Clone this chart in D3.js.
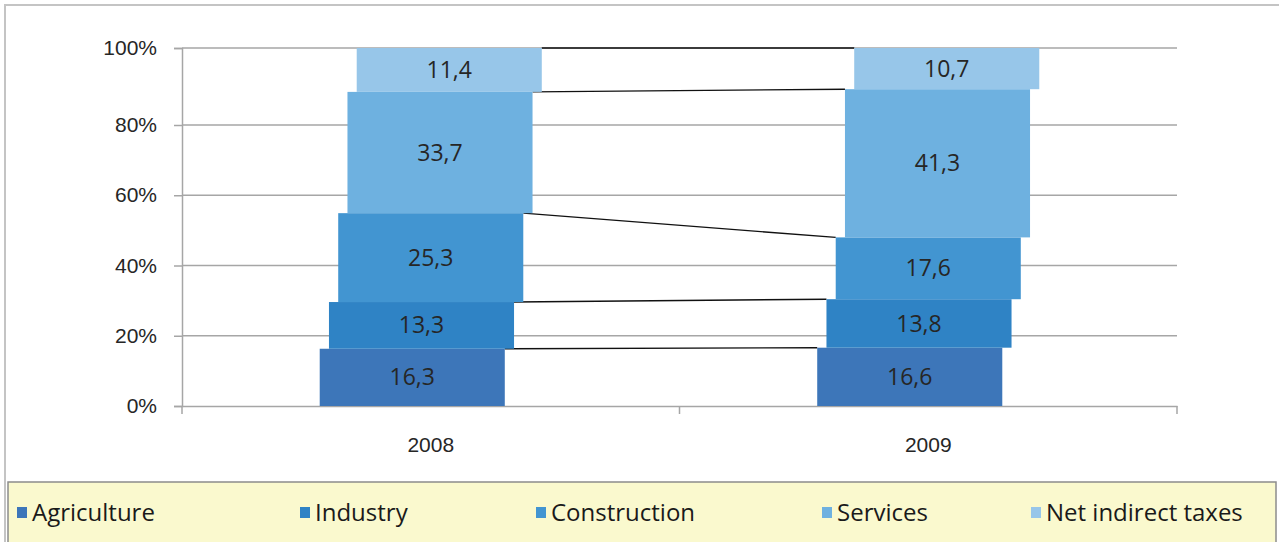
<!DOCTYPE html>
<html>
<head>
<meta charset="utf-8">
<script src="https://cdn.jsdelivr.net/npm/d3@7"></script>
<style>
  body { margin: 0; background: #fff; }
  svg { display: block; font-family: "Open Sans", "Noto Sans", sans-serif; }
</style>
</head>
<body>
<svg id="chart" width="1279" height="542"></svg>
<script>
// data
var years = ["2008", "2009"];
var sectors = ["Agriculture", "Industry", "Construction", "Services", "Net indirect taxes"];
var values2008 = [16.3, 13.3, 25.3, 33.7, 11.4];
var values2009 = [16.6, 13.8, 17.6, 41.3, 10.7];
var yTicks = [0, 0.2, 0.4, 0.6, 0.8, 1];
var colors = ["#3D76B9", "#2F83C5", "#4295D1", "#6EB1E0", "#97C6E9"];

var svg = d3.select("#chart"),
    margin = {top: 48, right: 102, bottom: 136, left: 182},
    width = +svg.attr("width") - margin.left - margin.right,
    height = +svg.attr("height") - margin.top - margin.bottom;

// outer frame of the chart area
svg.append("rect")
    .attr("x", 5).attr("y", 5)
    .attr("width", 1300).attr("height", 600)
    .attr("fill", "none")
    .attr("stroke", "#C4C4C4")
    .attr("stroke-width", 2);

var g = svg.append("g").attr("transform", "translate(" + margin.left + "," + margin.top + ")");

var rows = years.map(function(y, i) {
  var v = i === 0 ? values2008 : values2009;
  var r = {year: y};
  sectors.forEach(function(s, j) { r[s] = v[j]; });
  return r;
});

var series = d3.stack()
    .keys(sectors)
    .offset(d3.stackOffsetExpand)(rows);

var x = d3.scaleBand()
    .domain(years)
    .range([0, width]);

// the source image has a taller top band (80-100%) than the others
var y = d3.scaleLinear()
    .domain([0, 0.8, 1])
    .range([height, 77, 0]);

var barW = x.bandwidth() * 0.372;
// each sector is shifted a little to the right of the one below
var shift = d3.scalePoint()
    .domain(sectors)
    .range([-18.5, 18.5]);

// gridlines + y axis
var yAxis = d3.axisLeft(y)
    .tickValues(yTicks)
    .tickFormat(d3.format(".0%"))
    .tickSize(8)
    .tickPadding(17);

var yg = g.append("g").call(yAxis);
yg.select(".domain").attr("stroke", "#A6A6A6").attr("stroke-width", 1.5);
yg.selectAll(".tick line").attr("stroke", "#A6A6A6").attr("stroke-width", 1.5);
yg.selectAll(".tick text").attr("fill", "#262626").attr("font-size", 21);

g.append("g")
  .selectAll("line")
  .data(yTicks.slice(1))
  .enter().append("line")
    .attr("x1", 0).attr("x2", width)
    .attr("y1", function(d) { return y(d); })
    .attr("y2", function(d) { return y(d); })
    .attr("stroke", "#A6A6A6")
    .attr("stroke-width", 1.5);

var xAxis = d3.axisBottom(x)
    .tickSize(0)
    .tickPadding(31);

var xg = g.append("g")
    .attr("transform", "translate(0," + height + ")")
    .call(xAxis);
xg.select(".domain").attr("stroke", "#A6A6A6").attr("stroke-width", 1.5);
xg.selectAll(".tick text").attr("fill", "#262626").attr("font-size", 21);

// category boundary ticks below the axis
g.append("g")
  .selectAll("line")
  .data([0, 1, 2])
  .enter().append("line")
    .attr("x1", function(d) { return d * x.step(); })
    .attr("x2", function(d) { return d * x.step(); })
    .attr("y1", height).attr("y2", height + 8)
    .attr("stroke", "#A6A6A6")
    .attr("stroke-width", 1.5);

function left(key, year) { return x(year) + x.bandwidth() / 2 + shift(key) - barW / 2; }

// connector lines between top corners
g.append("g")
  .selectAll("line")
  .data(series)
  .enter().append("line")
    .attr("x1", function(s) { return left(s.key, years[0]) + barW; })
    .attr("y1", function(s) { return y(s[0][1]); })
    .attr("x2", function(s) { return left(s.key, years[1]); })
    .attr("y2", function(s) { return y(s[1][1]); })
    .attr("stroke", "#111")
    .attr("stroke-width", 1.4);

var layer = g.selectAll(".layer")
  .data(series)
  .enter().append("g")
    .attr("class", "layer")
    .attr("fill", function(s, i) { return colors[i]; });

layer.selectAll("rect")
  .data(function(s) { return s.map(function(d) { return {key: s.key, d: d}; }); })
  .enter().append("rect")
    .attr("x", function(e) { return left(e.key, e.d.data.year); })
    .attr("y", function(e) { return y(e.d[1]); })
    .attr("width", barW)
    .attr("height", function(e) { return y(e.d[0]) - y(e.d[1]); });

var comma = function(v) { return d3.format(".1f")(v).replace(".", ","); };

layer.selectAll("text")
  .data(function(s) { return s.map(function(d) { return {key: s.key, d: d}; }); })
  .enter().append("text")
    .attr("x", function(e) { return left(e.key, e.d.data.year) + barW / 2; })
    .attr("y", function(e) { return (y(e.d[0]) + y(e.d[1])) / 2; })
    .attr("dy", "0.35em")
    .attr("text-anchor", "middle")
    .attr("fill", "#262626")
    .attr("font-size", 23)
    .text(function(e) { return comma(e.d.data[e.key]); });

// legend
var legendX = [17, 300, 536, 822, 1031];

svg.append("rect")
    .attr("x", 8).attr("y", 482)
    .attr("width", 1268).attr("height", 80)
    .attr("fill", "#FAF9CE")
    .attr("stroke", "#8C8C8C")
    .attr("stroke-width", 1.5);

var item = svg.selectAll(".legend")
  .data(sectors)
  .enter().append("g")
    .attr("class", "legend")
    .attr("transform", function(d, i) { return "translate(" + legendX[i] + ",513)"; });

item.append("rect")
    .attr("x", 0).attr("y", -6)
    .attr("width", 10).attr("height", 11)
    .attr("fill", function(d, i) { return colors[i]; });

item.append("text")
    .attr("x", 15)
    .attr("dy", "0.35em")
    .attr("fill", "#1A1A1A")
    .attr("font-size", 24)
    .text(function(d) { return d; });
</script>
</body>
</html>
